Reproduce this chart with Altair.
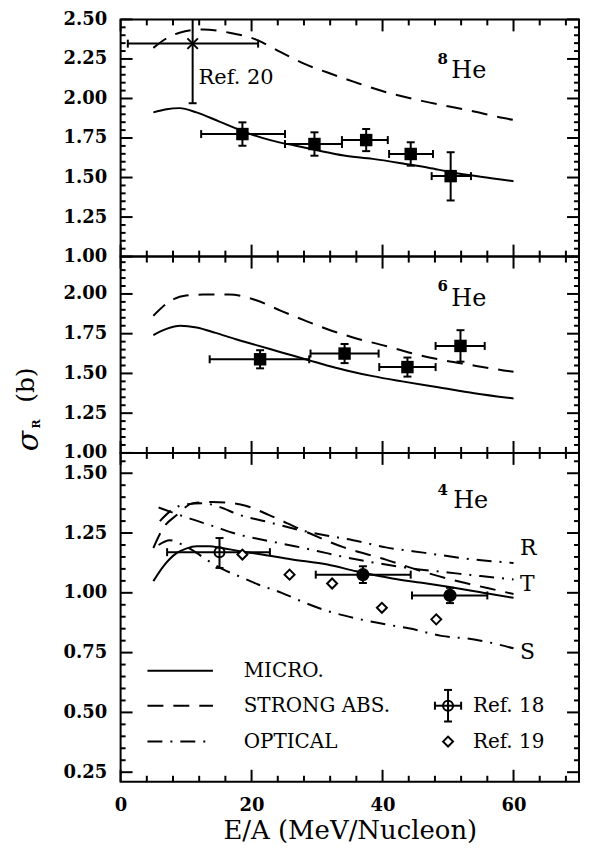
import altair as alt
import pandas as pd
import numpy as np

FONT = "DejaVu Serif"

# ---------------- data ----------------
# 8He panel
micro8_x = [5, 7, 9, 11.6, 15, 19.1, 23, 26.6, 30, 34.1, 38.5, 43.5, 47, 50.5, 55, 60]
micro8_y = [1.912, 1.932, 1.939, 1.912, 1.855, 1.786, 1.735, 1.702, 1.672, 1.639, 1.618, 1.586, 1.562, 1.534, 1.505, 1.477]
strong8_x = [5, 7, 9, 12.6, 16.6, 20.6, 24.6, 28, 31.6, 36, 40.3, 46, 53.5, 58.5, 60]
strong8_y = [2.32, 2.38, 2.416, 2.437, 2.416, 2.374, 2.29, 2.22, 2.164, 2.10, 2.043, 1.985, 1.922, 1.876, 1.865]
sq8_x = [18.6, 29.6, 37.5, 44.3, 50.4]
sq8_y = [1.775, 1.712, 1.737, 1.649, 1.509]
sq8_xlo = [12.3, 25.1, 33.8, 41.0, 47.5]
sq8_xhi = [25.1, 33.8, 40.8, 47.7, 53.5]
sq8_ylo = [1.701, 1.638, 1.667, 1.575, 1.355]
sq8_yhi = [1.849, 1.786, 1.807, 1.723, 1.66]
ref20_x = [11.0]
ref20_y = [2.347]
ref20_xlo = [1.1]
ref20_xhi = [21.0]
ref20_ylo = [1.97]
ref20_yhi = [2.50]   # bar runs off the top of the frame

# 6He panel
micro6_x = [5, 7, 9.1, 11.6, 14.5, 17.6, 21, 24.6, 28.6, 31.5, 34.5, 38.5, 43, 48.5, 54, 60]
micro6_y = [1.741, 1.78, 1.80, 1.789, 1.755, 1.715, 1.675, 1.632, 1.585, 1.55, 1.519, 1.483, 1.45, 1.413, 1.375, 1.342]
strong6_x = [5, 8.1, 10, 12.6, 16.6, 20.6, 24.5, 28, 31.6, 36, 40.5, 44, 48.5, 53.5, 58.5, 60]
strong6_y = [1.863, 1.968, 1.99, 1.996, 1.996, 1.962, 1.894, 1.835, 1.778, 1.72, 1.673, 1.632, 1.589, 1.553, 1.519, 1.51]
sq6_x = [21.3, 34.2, 43.8, 51.9]
sq6_y = [1.589, 1.625, 1.54, 1.673]
sq6_xlo = [13.6, 29.0, 39.5, 48.1]
sq6_xhi = [28.8, 39.4, 48.1, 55.6]
sq6_ylo = [1.532, 1.565, 1.48, 1.574]
sq6_yhi = [1.646, 1.685, 1.60, 1.772]

# 4He panel
micro4_x = [5, 6.5, 8.6, 10, 11.6, 13.5, 15.5, 18, 21.6, 26, 31.6, 36, 41.5, 46, 50, 55, 60]
micro4_y = [1.049, 1.11, 1.167, 1.185, 1.195, 1.195, 1.1875, 1.175, 1.16, 1.14, 1.118, 1.09, 1.06, 1.042, 1.025, 1.002, 0.979]
strong4_x = [5, 6.5, 8.6, 11.1, 14, 17, 19.1, 22.6, 27.6, 34.1, 40.5, 46, 52, 56, 60]
strong4_y = [1.1875, 1.27, 1.326, 1.375, 1.38, 1.375, 1.364, 1.326, 1.264, 1.19, 1.139, 1.09, 1.045, 1.02, 0.995]
optR_x = [6, 8, 10, 12.5, 15, 18.1, 22.1, 27.1, 31.6, 35.5, 40.5, 46.5, 54, 60]
optR_y = [1.30, 1.35, 1.37, 1.375, 1.36, 1.326, 1.299, 1.264, 1.239, 1.22, 1.19, 1.167, 1.139, 1.125]
optT_x = [5.8, 8, 10.6, 14, 18.1, 22, 26.6, 30, 34.1, 39, 45, 50, 55, 60]
optT_y = [1.357, 1.335, 1.31, 1.28, 1.243, 1.22, 1.195, 1.175, 1.15, 1.125, 1.10, 1.085, 1.07, 1.056]
optS_x = [5.8, 7.5, 9.5, 11.6, 13.1, 15.5, 18.1, 21, 24.6, 28, 31.6, 36, 40.5, 44, 49, 54, 57.5, 60]
optS_y = [1.20, 1.22, 1.20, 1.167, 1.139, 1.10, 1.069, 1.035, 1.0, 0.96, 0.924, 0.893, 0.868, 0.852, 0.82, 0.805, 0.785, 0.768]
ref18_x = [15.1]
ref18_y = [1.17]
ref18_xlo = [7.1]
ref18_xhi = [22.8]
ref18_ylo = [1.104]
ref18_yhi = [1.229]
ref19_x = [18.6, 25.8, 32.3, 39.9, 48.2]
ref19_y = [1.16, 1.076, 1.039, 0.9375, 0.889]
circ4_x = [37.0, 50.3]
circ4_y = [1.076, 0.989]
circ4_xlo = [29.8, 44.5]
circ4_xhi = [44.3, 56.0]
circ4_ylo = [1.041, 0.957]
circ4_yhi = [1.111, 1.021]

legend_labels = ["MICRO.", "STRONG ABS.", "OPTICAL"]
legend_y = [0.674, 0.528, 0.378]
legend_x0, legend_x1, legend_tx = 4.1, 14.1, 18.8
legref_labels = ["Ref. 18", "Ref. 19"]
legref_sym_x = 50.0
legref_tx = 53.8

# axis ticks
X_DOM = [0, 70]
X_MAJOR = [0, 20, 40, 60]
X_MINOR = [4, 8, 12, 16, 24, 28, 32, 36, 44, 48, 52, 56, 64, 68]
Y_TOP = [1.0, 2.5]
Y_MID = [1.0, 2.235]
Y_BOT = [0.21, 1.585]
TOP_MAJOR = [1.0, 1.25, 1.5, 1.75, 2.0, 2.25, 2.5]
MID_MAJOR = [1.0, 1.25, 1.5, 1.75, 2.0]
BOT_MAJOR = [0.25, 0.5, 0.75, 1.0, 1.25, 1.5]


def minors(lo, hi, majors):
    vals = np.round(np.arange(lo, hi + 1e-9, 0.05), 2)
    return [float(v) for v in vals if all(abs(v - m) > 1e-6 for m in majors)]


TOP_MINOR = minors(1.0, 2.5, TOP_MAJOR)
MID_MINOR = minors(1.0, 2.2, MID_MAJOR)
BOT_MINOR = minors(0.25, 1.55, BOT_MAJOR)

W = 460
H_TOP, H_MID, H_BOT = 238, 197, 330
LW = 2


# ---------------- helpers ----------------
def make_panel(H, ydom, ymajor, yminor, xaxis):
    yaxis = alt.Axis(values=ymajor, format=".2f", ticks=False, domain=False, grid=False,
                     labelFont=FONT, labelFontWeight="bold", labelFontSize=18,
                     labelPadding=14, labelColor="black", labelOverlap=False, title=None)

    def X(f):
        return alt.X(f, type="quantitative", scale=alt.Scale(domain=X_DOM, nice=False, zero=False), axis=xaxis)

    def Y(f):
        return alt.Y(f, type="quantitative", scale=alt.Scale(domain=ydom, nice=False, zero=False), axis=yaxis)

    layers = []

    def line(xs, ys, dash=None):
        kw = dict(color="black", strokeWidth=LW, interpolate="monotone")
        if dash is not None:
            kw["strokeDash"] = dash
        layers.append(alt.Chart(pd.DataFrame({"x": xs, "y": ys})).mark_line(**kw).encode(x=X("x"), y=Y("y")))

    def errbars(xs, ys, xlo, xhi, ylo, yhi, cap=8, top_cap=True):
        df = pd.DataFrame({"x": xs, "y": ys, "xlo": xlo, "xhi": xhi, "ylo": ylo, "yhi": yhi})
        layers.append(alt.Chart(df).mark_rule(color="black", strokeWidth=LW)
                      .encode(x=X("xlo"), x2="xhi", y=Y("y")))
        layers.append(alt.Chart(df).mark_rule(color="black", strokeWidth=LW)
                      .encode(x=X("x"), y=Y("ylo"), y2="yhi"))
        cx = pd.DataFrame({"cx": list(xlo) + list(xhi), "y": list(ys) * 2})
        cyv = list(ylo) + (list(yhi) if top_cap else [])
        cy = pd.DataFrame({"x": list(xs) * (2 if top_cap else 1), "cy": cyv})
        layers.append(alt.Chart(cx).mark_tick(orient="vertical", size=cap, thickness=LW, color="black", opacity=1)
                      .encode(x=X("cx"), y=Y("y")))
        layers.append(alt.Chart(cy).mark_tick(orient="horizontal", size=cap, thickness=LW, color="black", opacity=1)
                      .encode(x=X("x"), y=Y("cy")))

    def points(xs, ys, **mk):
        layers.append(alt.Chart(pd.DataFrame({"x": xs, "y": ys})).mark_point(opacity=1, **mk)
                      .encode(x=X("x"), y=Y("y")))

    def text(xs, ys, labels, **mk):
        base = dict(font=FONT, color="black", align="left", baseline="alphabetic")
        base.update(mk)
        layers.append(alt.Chart(pd.DataFrame({"x": xs, "y": ys, "t": labels})).mark_text(**base)
                      .encode(x=X("x"), y=Y("y"), text="t"))

    def ticks():
        for vals, L in ((ymajor, 12), (yminor, 5)):
            df = pd.DataFrame({"v": vals})
            layers.append(alt.Chart(df).mark_rule(color="black", strokeWidth=LW)
                          .encode(y=Y("v"), x=alt.value(0), x2=alt.value(L)))
            layers.append(alt.Chart(df).mark_rule(color="black", strokeWidth=LW)
                          .encode(y=Y("v"), x=alt.value(W - L), x2=alt.value(W)))
        for vals, L in ((X_MAJOR, 12), (X_MINOR, 6)):
            df = pd.DataFrame({"v": vals})
            layers.append(alt.Chart(df).mark_rule(color="black", strokeWidth=LW)
                          .encode(x=X("v"), y=alt.value(0), y2=alt.value(L)))
            layers.append(alt.Chart(df).mark_rule(color="black", strokeWidth=LW)
                          .encode(x=X("v"), y=alt.value(H - L), y2=alt.value(H)))

    return layers, line, errbars, points, text, ticks


SQ = dict(shape="square", filled=True, color="black", size=156)
DASH = [16, 10]
DASHDOT = [15, 8, 2, 8]

# ---- top panel (8He)
L1, line, errbars, points, text, ticks = make_panel(H_TOP, Y_TOP, TOP_MAJOR, TOP_MINOR, None)
ticks()
line(micro8_x, micro8_y)
line(strong8_x, strong8_y, DASH)
errbars(sq8_x, sq8_y, sq8_xlo, sq8_xhi, sq8_ylo, sq8_yhi)
points(sq8_x, sq8_y, **SQ)
errbars(ref20_x, ref20_y, ref20_xlo, ref20_xhi, ref20_ylo, ref20_yhi, top_cap=False)
points(ref20_x, ref20_y, shape="M-1,-1L1,1M-1,1L1,-1", filled=False, stroke="black", strokeWidth=LW, size=110)
text([11.9], [2.09], ["Ref. 20"], fontSize=21)
text([48.4], [2.216], ["8"], fontSize=15, fontWeight="bold")
text([50.5], [2.128], ["He"], fontSize=24)
top = alt.layer(*L1).properties(width=W, height=H_TOP)

# ---- middle panel (6He)
L2, line, errbars, points, text, ticks = make_panel(H_MID, Y_MID, MID_MAJOR, MID_MINOR, None)
ticks()
line(micro6_x, micro6_y)
line(strong6_x, strong6_y, DASH)
errbars(sq6_x, sq6_y, sq6_xlo, sq6_xhi, sq6_ylo, sq6_yhi)
points(sq6_x, sq6_y, **SQ)
text([48.4], [2.021], ["6"], fontSize=15, fontWeight="bold")
text([50.5], [1.926], ["He"], fontSize=24)
# y-axis title sigma_R (b), rotated
L2.append(alt.Chart(pd.DataFrame({"t": ["σ"]})).mark_text(font=FONT, fontSize=30, fontStyle="italic", angle=270,
                                                          color="black", align="center", baseline="alphabetic")
          .encode(x=alt.value(-83), y=alt.value(185), text="t"))
L2.append(alt.Chart(pd.DataFrame({"t": ["R"]})).mark_text(font=FONT, fontSize=11, fontWeight="bold", angle=270,
                                                          color="black", align="center", baseline="alphabetic")
          .encode(x=alt.value(-81), y=alt.value(168), text="t"))
L2.append(alt.Chart(pd.DataFrame({"t": ["(b)"]})).mark_text(font=FONT, fontSize=25, angle=270, color="black",
                                                            align="center", baseline="alphabetic")
          .encode(x=alt.value(-87), y=alt.value(129), text="t"))
mid = alt.layer(*L2).properties(width=W, height=H_MID)

# ---- bottom panel (4He)
xaxis = alt.Axis(values=X_MAJOR, ticks=False, domain=False, grid=False, labelFlush=False,
                 labelFont=FONT, labelFontWeight="bold", labelFontSize=18, labelPadding=15,
                 labelColor="black", title="E/A (MeV/Nucleon)", titleFont=FONT, titleFontSize=26,
                 titleFontWeight="normal", titleColor="black", titlePadding=3)
L3, line, errbars, points, text, ticks = make_panel(H_BOT, Y_BOT, BOT_MAJOR, BOT_MINOR, xaxis)
ticks()
line(optR_x, optR_y, DASHDOT)
line(optT_x, optT_y, DASHDOT)
line(optS_x, optS_y, DASHDOT)
line(strong4_x, strong4_y, DASH)
line(micro4_x, micro4_y)
errbars(circ4_x, circ4_y, circ4_xlo, circ4_xhi, circ4_ylo, circ4_yhi)
points(circ4_x, circ4_y, shape="circle", filled=True, color="black", size=175)
errbars(ref18_x, ref18_y, ref18_xlo, ref18_xhi, ref18_ylo, ref18_yhi)
points(ref18_x, ref18_y, shape="circle", filled=False, stroke="black", strokeWidth=LW, size=100)
points(ref19_x, ref19_y, shape="diamond", filled=True, fill="white", stroke="black", strokeWidth=LW, size=100)
text([48.4], [1.41], ["4"], fontSize=15, fontWeight="bold")
text([50.8], [1.354], ["He"], fontSize=24)
text([61.0, 61.0, 61.0], [1.16, 1.007, 0.722], ["R", "T", "S"], fontSize=22)
# legend
line([legend_x0, legend_x1], [legend_y[0]] * 2)
line([legend_x0, legend_x1], [legend_y[1]] * 2, DASH)
line([legend_x0, legend_x1], [legend_y[2]] * 2, DASHDOT)
text([legend_tx] * 3, legend_y, legend_labels, fontSize=20, baseline="middle")
errbars([legref_sym_x], [legend_y[1]], [legref_sym_x - 2.0], [legref_sym_x + 2.0],
        [legend_y[1] - 0.066], [legend_y[1] + 0.066])
points([legref_sym_x], [legend_y[1]], shape="circle", filled=False, stroke="black", strokeWidth=LW, size=100)
points([legref_sym_x], [legend_y[2]], shape="diamond", filled=True, fill="white", stroke="black", strokeWidth=LW, size=100)
text([legref_tx] * 2, legend_y[1:], legref_labels, fontSize=20, baseline="middle")
bot = alt.layer(*L3).properties(width=W, height=H_BOT)

chart = (
    alt.vconcat(top, mid, bot, spacing=0, bounds="flush")
    .properties(padding={"left": 5, "top": 0, "right": 0, "bottom": 0})
    .configure_view(stroke="black", strokeWidth=2)
)

chart.save("out.html", embed_options={"renderer": "svg", "actions": False})
